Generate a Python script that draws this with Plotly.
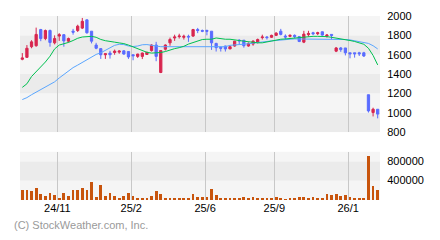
import plotly.graph_objects as go

# ---------------- data (weekly bars) ----------------
OPEN = [1553, 1573, 1683, 1693, 1860, 1767, 1850, 1723, 1793, 1807,
        1740, 1843, 1850, 1875, 1960, 1843, 1700, 1663, 1600, 1617,
        1623, 1627, 1640, 1633, 1600, 1583, 1583, 1603, 1643, 1700,
        1417, 1657, 1723, 1773, 1787, 1780, 1790, 1793, 1860, 1850,
        1850, 1843, 1717, 1677, 1690, 1660, 1690, 1750, 1750, 1690,
        1710, 1727, 1777, 1783, 1780, 1800, 1843, 1793, 1790, 1800,
        1787, 1730, 1807, 1827, 1817, 1837, 1793, 1810, 1637, 1670,
        1670, 1620, 1620, 1620, 1620, 1187, 1003, 1037]
HIGH = [1617, 1700, 1750, 1880, 1867, 1860, 1860, 1800, 1823, 1813,
        1777, 1867, 1910, 1980, 1965, 1843, 1723, 1667, 1610, 1640,
        1653, 1647, 1647, 1637, 1600, 1610, 1623, 1630, 1707, 1733,
        1643, 1707, 1777, 1807, 1817, 1807, 1807, 1867, 1877, 1860,
        1860, 1843, 1723, 1683, 1693, 1693, 1743, 1760, 1750, 1727,
        1750, 1767, 1807, 1793, 1807, 1833, 1867, 1810, 1810, 1810,
        1793, 1847, 1847, 1837, 1837, 1840, 1813, 1810, 1680, 1680,
        1670, 1620, 1620, 1630, 1630, 1187, 1053, 1037]
LOW = [1543, 1567, 1667, 1683, 1740, 1750, 1683, 1707, 1743, 1683,
       1727, 1807, 1835, 1865, 1817, 1717, 1657, 1557, 1557, 1560,
       1600, 1610, 1600, 1557, 1543, 1567, 1555, 1600, 1633, 1533,
       1410, 1643, 1693, 1743, 1767, 1757, 1733, 1783, 1823, 1833,
       1800, 1650, 1633, 1633, 1633, 1660, 1683, 1710, 1673, 1683,
       1693, 1717, 1757, 1757, 1773, 1793, 1800, 1757, 1780, 1770,
       1730, 1720, 1787, 1803, 1803, 1797, 1777, 1760, 1627, 1630,
       1593, 1563, 1570, 1587, 1577, 1003, 963, 943]
CLOSE = [1567, 1667, 1733, 1810, 1767, 1850, 1727, 1767, 1807, 1743,
         1767, 1833, 1895, 1945, 1827, 1740, 1667, 1600, 1610, 1600,
         1637, 1637, 1607, 1577, 1590, 1607, 1617, 1625, 1700, 1583,
         1643, 1700, 1757, 1783, 1793, 1790, 1783, 1860, 1850, 1843,
         1843, 1723, 1673, 1667, 1660, 1683, 1740, 1743, 1693, 1717,
         1740, 1757, 1783, 1777, 1800, 1823, 1810, 1783, 1800, 1787,
         1737, 1813, 1820, 1817, 1827, 1803, 1803, 1800, 1670, 1653,
         1620, 1610, 1610, 1610, 1587, 1020, 1037, 987]
MA_SHORT = [1263, 1300, 1375, 1423, 1475, 1525, 1585, 1660, 1700, 1710,
            1727, 1747, 1770, 1783, 1790, 1790, 1780, 1758, 1745, 1740,
            1730, 1722, 1715, 1700, 1680, 1657, 1638, 1625, 1617, 1617,
            1623, 1633, 1650, 1663, 1673, 1687, 1710, 1727, 1747, 1757,
            1760, 1760, 1773, 1763, 1760, 1760, 1757, 1747, 1740, 1733,
            1727, 1723, 1723, 1733, 1743, 1753, 1760, 1763, 1767, 1773,
            1780, 1785, 1790, 1790, 1790, 1790, 1787, 1780, 1773, 1763,
            1755, 1747, 1737, 1725, 1708, 1667, 1593, 1495]
MA_LONG = [1137, 1157, 1187, 1213, 1243, 1273, 1300, 1320, 1360, 1397,
           1430, 1467, 1493, 1520, 1547, 1577, 1603, 1620, 1645, 1667,
           1697, 1708, 1705, 1690, 1685, 1690, 1703, 1705, 1697, 1687,
           1683, 1683, 1683, 1683, 1683, 1683, 1683, 1683, 1683, 1683,
           1683, 1683, 1683, 1683, 1683, 1697, 1700, 1707, 1710, 1713,
           1720, 1727, 1733, 1740, 1743, 1747, 1753, 1757, 1760, 1763,
           1763, 1763, 1763, 1763, 1763, 1763, 1763, 1763, 1760, 1760,
           1757, 1753, 1745, 1737, 1730, 1717, 1693, 1660]
VOLUME = [220000, 220000, 200000, 260000, 140000, 100000, 160000, 120000, 60000, 160000,
          100000, 220000, 220000, 260000, 220000, 380000, 80000, 320000, 100000, 160000,
          100000, 60000, 100000, 160000, 100000, 60000, 60000, 40000, 100000, 200000,
          140000, 60000, 60000, 60000, 40000, 60000, 60000, 140000, 80000, 80000,
          80000, 240000, 120000, 60000, 60000, 40000, 60000, 60000, 80000, 60000,
          80000, 40000, 60000, 40000, 60000, 80000, 40000, 20000, 40000, 60000,
          80000, 80000, 60000, 80000, 40000, 60000, 140000, 120000, 140000, 100000,
          120000, 80000, 40000, 60000, 60000, 920000, 300000, 220000]
TICK_WEEKS = [8, 24, 40, 55, 71]
TICK_LABELS = ["24/11", "25/2", "25/6", "25/9", "26/1"]
PRICE_TICKS = [800, 1000, 1200, 1400, 1600, 1800, 2000]
VOL_TICKS = [0, 400000, 800000, 1000000]

# ---------------- figure ----------------
N = len(CLOSE)
X = list(range(N))
FONT = "Liberation Sans, Arial, sans-serif"
RED = "#d8264f"
BLUE = "#5a6cff"
LIGHT = "#f5f5f5"
DARK = "#ebebeb"

fig = go.Figure()
fig.add_trace(go.Candlestick(
    x=X, open=OPEN, high=HIGH, low=LOW, close=CLOSE,
    increasing=dict(line=dict(color=RED, width=1), fillcolor=RED),
    decreasing=dict(line=dict(color=BLUE, width=1), fillcolor=BLUE),
    whiskerwidth=0, xaxis="x", yaxis="y", showlegend=False, hoverinfo="skip"))
fig.add_trace(go.Scatter(x=X, y=MA_LONG, mode="lines",
                         line=dict(color="#5aa6ff", width=1),
                         xaxis="x", yaxis="y", showlegend=False, hoverinfo="skip"))
fig.add_trace(go.Scatter(x=X, y=MA_SHORT, mode="lines",
                         line=dict(color="#00c050", width=1),
                         xaxis="x", yaxis="y", showlegend=False, hoverinfo="skip"))
fig.add_trace(go.Bar(x=X, y=VOLUME, width=0.6, marker=dict(color="#c8540c", line=dict(width=0)),
                     xaxis="x2", yaxis="y2", showlegend=False, hoverinfo="skip"))

shapes = []
for k in range(len(PRICE_TICKS) - 1):
    shapes.append(dict(type="rect", xref="x domain", yref="y", x0=0, x1=1,
                       y0=PRICE_TICKS[k], y1=PRICE_TICKS[k + 1],
                       fillcolor=DARK if k % 2 == 0 else LIGHT,
                       line=dict(width=0), layer="below"))
for k in range(len(VOL_TICKS) - 1):
    shapes.append(dict(type="rect", xref="x2 domain", yref="y2", x0=0, x1=1,
                       y0=VOL_TICKS[k], y1=VOL_TICKS[k + 1],
                       fillcolor=DARK if k % 2 == 1 else LIGHT,
                       line=dict(width=0), layer="below"))

grid_pos = [w - 0.4 for w in TICK_WEEKS]
xcommon = dict(range=[-0.5, N - 0.5], showgrid=True, gridcolor="#c8c8c8", gridwidth=1,
               zeroline=False, showline=False, tickvals=grid_pos, ticks="",
               fixedrange=True)

fig.update_layout(
    width=440, height=240,
    margin=dict(l=20, r=60, t=10, b=40),
    paper_bgcolor="white", plot_bgcolor="white",
    font=dict(family=FONT, size=11, color="#000000"),
    shapes=shapes,
    xaxis=dict(xcommon, anchor="y", showticklabels=False,
               rangeslider=dict(visible=False)),
    xaxis2=dict(xcommon, anchor="y2", ticktext=TICK_LABELS, showticklabels=True,
                tickfont=dict(size=11, color="#000")),
    yaxis=dict(domain=[1 - 120 / 190, 1], range=[PRICE_TICKS[0], PRICE_TICKS[-1]],
               side="right", tickvals=PRICE_TICKS, showgrid=False, zeroline=False,
               ticks="outside", ticklen=4, tickcolor="rgba(0,0,0,0)",
               tickfont=dict(size=11, color="#000"), fixedrange=True),
    yaxis2=dict(domain=[0, 50 / 190], range=[0, VOL_TICKS[-1]],
                side="right", tickvals=VOL_TICKS[1:3], ticktext=[str(v) for v in VOL_TICKS[1:3]],
                showgrid=False, zeroline=False,
                ticks="outside", ticklen=4, tickcolor="rgba(0,0,0,0)",
                tickfont=dict(size=11, color="#000"), fixedrange=True),
    bargap=0,
    annotations=[dict(text="(C) StockWeather.com, Inc.", xref="paper", yref="paper",
                      x=-8 / 360, y=-26 / 190, xanchor="left", yanchor="middle",
                      showarrow=False, font=dict(family=FONT, size=11, color="#9a9a9a"))],
)

fig.write_html("out.html")
